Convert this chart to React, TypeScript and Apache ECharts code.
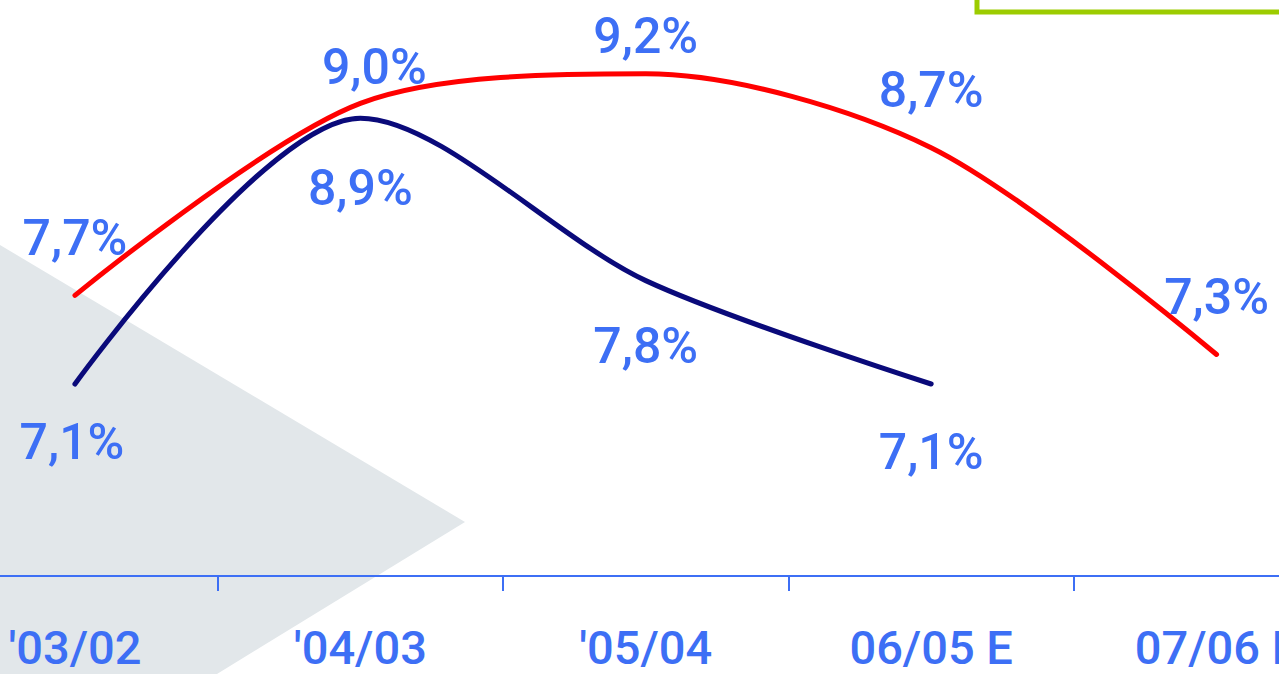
import React, { useEffect, useRef } from "react";
import * as echarts from "echarts";

const categories = ["'03/02", "'04/03", "'05/04", "06/05 E", "07/06 E"];
const redValues = [7.7, 9.0, 9.2, 8.7, 7.3];
const blueValues = [7.1, 8.9, 7.8, 7.1];
const redLabels = ["7,7%", "9,0%", "9,2%", "8,7%", "7,3%"];
const blueLabels = ["7,1%", "8,9%", "7,8%", "7,1%"];

const FONT = "Roboto, 'Noto Sans', sans-serif";
const LABEL_BLUE = "#3d6ff5";

export default function App() {
  const ref = useRef<HTMLDivElement>(null);
  useEffect(() => {
    document.body.style.margin = "0";
    const chart = echarts.init(ref.current!, null, { renderer: "svg" });
    const redOffsets = [[0, 0], [14, 21], [0, 20], [0, 0], [0, 0]];
    const blueOffsets = [[-3, -2], [0, 10], [0, 6], [0, 8]];
    chart.setOption({
      animation: false,
      backgroundColor: "#ffffff",
      grid: {
        left: -67.75,
        width: 1427,
        top: 0,
        bottom: 98,
        containLabel: false,
        outerBoundsMode: "none",
      },
      xAxis: {
        type: "category",
        data: categories,
        boundaryGap: true,
        axisLine: { lineStyle: { color: LABEL_BLUE, width: 2 } },
        axisTick: { show: true, length: 15, lineStyle: { color: LABEL_BLUE, width: 2 } },
        axisLabel: {
          color: LABEL_BLUE,
          fontFamily: FONT,
          fontWeight: 500,
          fontSize: 47,
          margin: 48,
          interval: 0,
        },
        splitLine: { show: false },
      },
      yAxis: {
        type: "value",
        min: 5.8,
        max: 9.7,
        show: false,
        splitLine: { show: false },
      },
      graphic: [
        {
          type: "polygon",
          z: -10,
          shape: { points: [[0, 245], [465, 522], [217, 674], [0, 674]] },
          style: { fill: "#e2e7ea" },
          silent: true,
        },
        {
          type: "polyline",
          z: -10,
          shape: { points: [[977, 0], [977, 12], [1279, 12]] },
          style: { stroke: "#9ccc00", lineWidth: 5, fill: "none" },
          silent: true,
        },
      ],
      series: [
        {
          type: "line",
          data: redValues.map((v, i) => ({
            value: v,
            label: { offset: redOffsets[i], formatter: redLabels[i] },
          })),
          smooth: 0.3,
          symbol: "circle",
          symbolSize: 1,
          showSymbol: true,
          itemStyle: { color: "rgba(0,0,0,0)" },
          lineStyle: { color: "#ff0000", width: 5, cap: "round" },
          label: {
            show: true,
            position: "top",
            distance: 32,
            color: LABEL_BLUE,
            fontFamily: FONT,
            fontWeight: 500,
            fontSize: 50,
          },
          z: 3,
        },
        {
          type: "line",
          data: blueValues.map((v, i) => ({
            value: v,
            label: { offset: blueOffsets[i], formatter: blueLabels[i] },
          })),
          smooth: 0.3,
          symbol: "circle",
          symbolSize: 1,
          showSymbol: true,
          itemStyle: { color: "rgba(0,0,0,0)" },
          lineStyle: { color: "#0a0a7a", width: 5, cap: "round" },
          label: {
            show: true,
            position: "bottom",
            distance: 34,
            color: LABEL_BLUE,
            fontFamily: FONT,
            fontWeight: 500,
            fontSize: 50,
          },
          z: 3,
        },
      ],
    });
    return () => chart.dispose();
  }, []);
  return <div ref={ref} style={{ width: 1279, height: 674 }} />;
}
